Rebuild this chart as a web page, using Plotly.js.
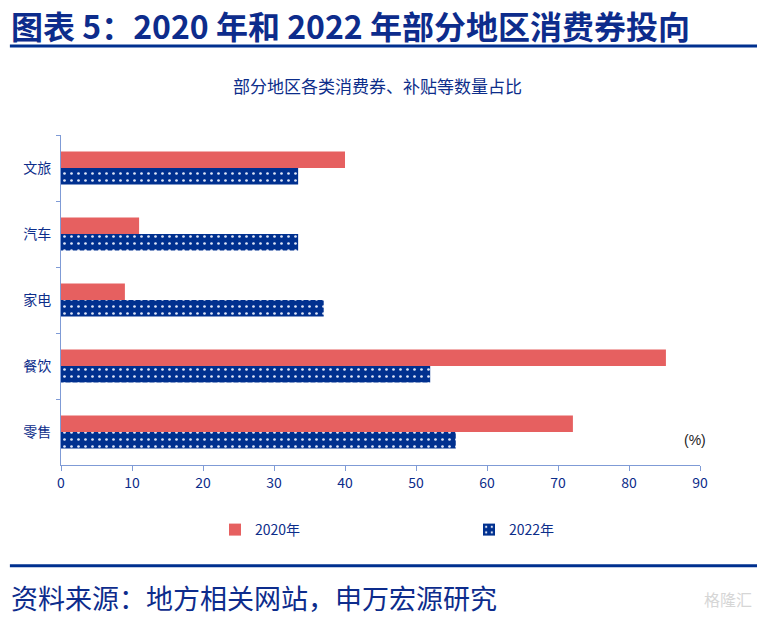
<!DOCTYPE html>
<html>
<head>
<meta charset="utf-8">
<script src="https://cdn.plot.ly/plotly-3.0.1.min.js"></script>
<style>
html,body{margin:0;padding:0;background:#fff;}
#chart{width:757px;height:618px;}
</style>
</head>
<body>
<div id="chart"></div>
<script>
const categories = ['文旅', '汽车', '家电', '餐饮', '零售'];
const values2020 = [40, 11, 9, 85.2, 72.1];
const values2022 = [33.4, 33.4, 37, 52, 55.6];
const seriesNames = ['2020年', '2022年'];
const xTicks = [0, 10, 20, 30, 40, 50, 60, 70, 80, 90];

const red = '#E66060';
const navy = '#00308F';
const textBlue = '#0C2D8A';
const cjk = '"Noto Sans CJK SC", "Microsoft YaHei", sans-serif';

const traces = [
  {
    type: 'bar', orientation: 'h', name: seriesNames[0],
    y: categories, x: values2020,
    marker: {color: red, line: {width: 0}}
  },
  {
    type: 'bar', orientation: 'h', name: seriesNames[1],
    y: categories, x: values2022,
    marker: {color: navy, line: {width: 0},
      pattern: {shape: '.', fgcolor: '#dfe6f7', bgcolor: navy, size: 7, solidity: 0.12}}
  }
];

const layout = {
  width: 757, height: 618,
  paper_bgcolor: '#fff', plot_bgcolor: '#fff',
  margin: {l: 61, r: 57, t: 135, b: 153},
  barmode: 'group', bargap: 0.5, bargroupgap: 0,
  font: {family: cjk, color: textBlue},
  xaxis: {
    range: [0, 90], tickvals: xTicks, ticktext: xTicks.map(String),
    showgrid: false, zeroline: false,
    showline: true, linecolor: '#7F9BD6', linewidth: 1,
    ticks: 'outside', ticklen: 5, tickcolor: '#7F9BD6',
    tickfont: {family: '"Liberation Sans Narrow", "Noto Sans CJK SC", sans-serif', size: 14, color: textBlue},
    fixedrange: true
  },
  yaxis: {
    type: 'category', autorange: 'reversed',
    showgrid: false, zeroline: false,
    showline: true, linecolor: '#7F9BD6', linewidth: 1,
    ticks: 'outside', tickson: 'boundaries', ticklen: 4, tickcolor: '#7F9BD6',
    tickfont: {family: cjk, size: 14, color: textBlue},
    ticklabelstandoff: 6,
    fixedrange: true
  },
  showlegend: true,
  legend: {
    orientation: 'h', x: 0.241, xanchor: 'left', y: 1 - 530 / 618, yref: 'container',
    yanchor: 'middle', traceorder: 'normal',
    entrywidth: 209, entrywidthmode: 'pixels',
    font: {family: cjk, size: 14, color: textBlue},
    itemwidth: 30
  },
  shapes: [
    {type: 'line', xref: 'paper', yref: 'paper', x0: -0.08, x1: 1.09, y0: 1.27, y1: 1.27,
     line: {color: '#00308F', width: 3}},
    {type: 'line', xref: 'paper', yref: 'paper', x0: -0.08, x1: 1.09, y0: -0.305, y1: -0.305,
     line: {color: '#00308F', width: 3}}
  ],
  annotations: [
    {text: '<b>图表 5：2020 年和 2022 年部分地区消费券投向</b>', xref: 'paper', yref: 'paper',
     x: -0.082, y: 1.333, xanchor: 'left', yanchor: 'middle', showarrow: false,
     font: {family: cjk, size: 32, color: '#0D2C8C'}},
    {text: '部分地区各类消费券、补贴等数量占比', xref: 'paper', yref: 'paper',
     x: 0.496, y: 1.15, xanchor: 'center', yanchor: 'middle', showarrow: false,
     font: {family: cjk, size: 17, color: textBlue}},
    {text: '(%)', xref: 'paper', yref: 'paper', x: 0.992, y: 0.075, xanchor: 'center', yanchor: 'middle',
     showarrow: false, font: {family: '"Liberation Sans Narrow", sans-serif', size: 14, color: '#222'}},
    {text: '资料来源：地方相关网站，申万宏源研究', xref: 'paper', yref: 'paper',
     x: -0.082, y: -0.4, xanchor: 'left', yanchor: 'middle', showarrow: false,
     font: {family: cjk, size: 27, color: '#0D2C8C'}},
    {text: '格隆汇', xref: 'paper', yref: 'paper', x: 1.085, y: -0.405, xanchor: 'right', yanchor: 'middle',
     showarrow: false, font: {family: cjk, size: 16, color: '#d6d6d6'}}
  ]
};

Plotly.newPlot('chart', traces, layout, {displayModeBar: false, staticPlot: true});
</script>
</body>
</html>
